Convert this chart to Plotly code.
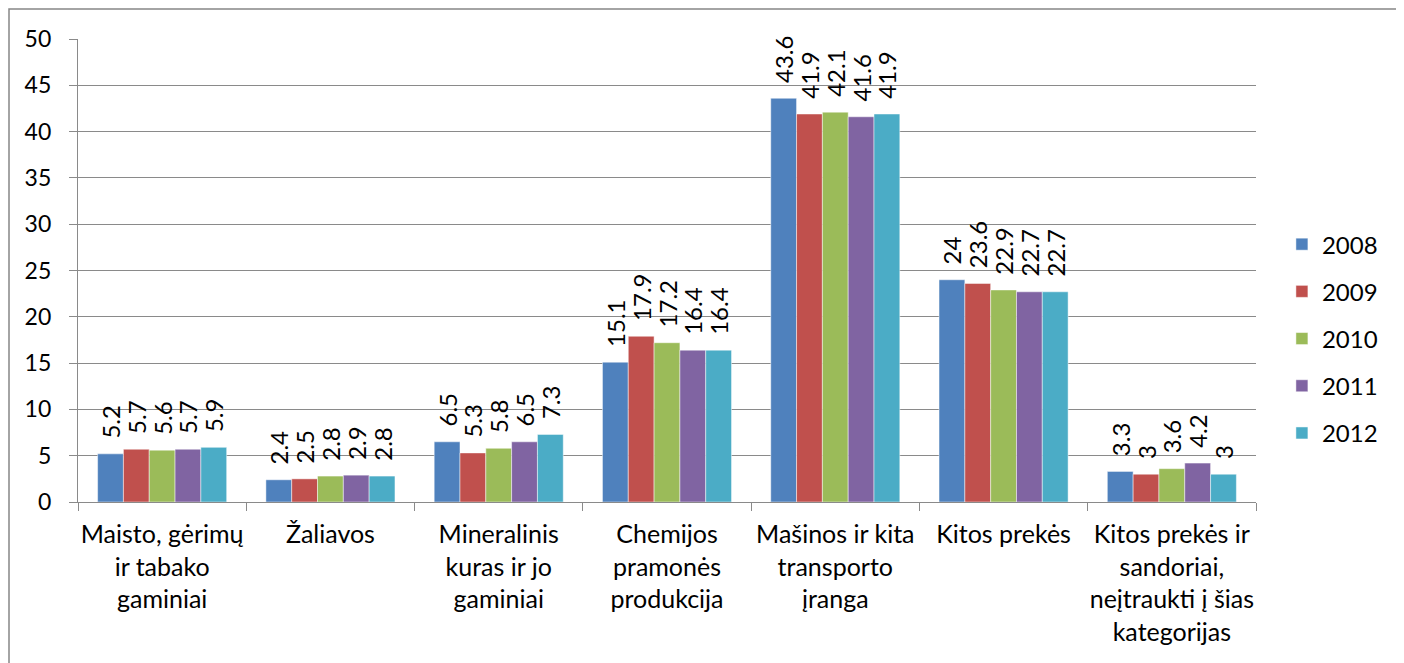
import plotly.graph_objects as go

categories = [
    "Maisto, gėrimų<br>ir tabako<br>gaminiai",
    "Žaliavos",
    "Mineralinis<br>kuras ir jo<br>gaminiai",
    "Chemijos<br>pramonės<br>produkcija",
    "Mašinos ir kita<br>transporto<br>įranga",
    "Kitos prekės",
    "Kitos prekės ir<br>sandoriai,<br>neįtraukti į šias<br>kategorijas",
]
years = ["2008", "2009", "2010", "2011", "2012"]
v2008 = [5.2, 2.4, 6.5, 15.1, 43.6, 24, 3.3]
v2009 = [5.7, 2.5, 5.3, 17.9, 41.9, 23.6, 3]
v2010 = [5.6, 2.8, 5.8, 17.2, 42.1, 22.9, 3.6]
v2011 = [5.7, 2.9, 6.5, 16.4, 41.6, 22.7, 4.2]
v2012 = [5.9, 2.8, 7.3, 16.4, 41.9, 22.7, 3]
series = [v2008, v2009, v2010, v2011, v2012]
colors = ["#4F81BD", "#C0504D", "#9BBB59", "#8064A2", "#4BACC6"]

FONT = "Lato, 'Open Sans', sans-serif"
PAD = "\u00a0" * 2  # gap between bar end and its rotated label

fig = go.Figure()
for yr, vals, col in zip(years, series, colors):
    fig.add_trace(go.Bar(
        name=yr, x=categories, y=vals,
        marker=dict(color=col, line=dict(color="rgba(255,255,255,0.6)", width=0.8)),
        text=[PAD + f"{v:g}" for v in vals],
        textposition="outside", textangle=-90,
        textfont=dict(family=FONT, size=24, color="black"),
        constraintext="none", cliponaxis=False,
        legendgroup=yr,
    ))

grid = "#8a8a8a"
# the page body has an 8px margin, so margins are offset by 8px
fig.update_layout(
    width=1404, height=663,
    margin=dict(l=70, r=156, t=31, b=169, autoexpand=False),
    paper_bgcolor="white", plot_bgcolor="white",
    barmode="group", bargap=0.233, bargroupgap=0,
    font=dict(family=FONT, size=23, color="black"),
    showlegend=True,
    legend=dict(x=1.022, y=0.353, xanchor="left", yanchor="middle",
                font=dict(family=FONT, size=24, color="black"),
                tracegroupgap=13, traceorder="grouped",
                itemwidth=30, bgcolor="rgba(0,0,0,0)"),
    xaxis=dict(showline=True, linecolor=grid, linewidth=1.2,
               ticks="outside", ticklen=8, tickcolor=grid, tickwidth=1.2,
               tickson="boundaries", tickangle=0, automargin=False,
               ticklabelstandoff=10,
               tickfont=dict(family=FONT, size=25, color="black")),
    yaxis=dict(range=[0, 50], dtick=5, showgrid=True, gridcolor=grid, gridwidth=1.2,
               showline=True, linecolor=grid, linewidth=1.2,
               ticks="outside", ticklen=8, tickcolor=grid, tickwidth=1.2,
               ticklabelstandoff=13, zeroline=False, automargin=False,
               tickfont=dict(family=FONT, size=23, color="black")),
    shapes=[dict(type="rect", xref="paper", yref="paper",
                 x0=(9 - 78) / 1178, x1=(1400 - 78) / 1178,
                 y0=(502 - 700) / 463, y1=(502 - 9) / 463,
                 line=dict(color="#868686", width=1.5), fillcolor="rgba(0,0,0,0)",
                 layer="below")],
)

fig.write_html("out.html")
